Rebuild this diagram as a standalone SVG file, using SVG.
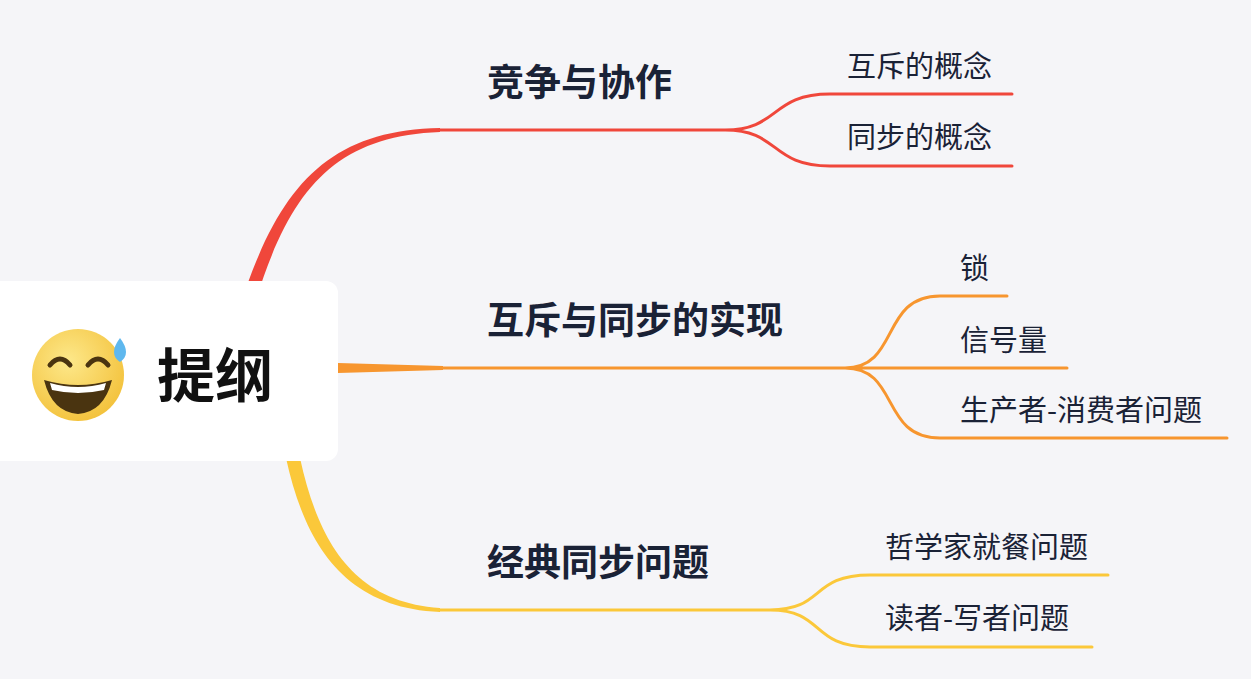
<svg xmlns="http://www.w3.org/2000/svg" width="1251" height="679" viewBox="0 0 1251 679">
<style>
.m{font-family:"Noto Sans CJK SC",sans-serif;font-weight:bold;font-size:37px;fill:#1a2236}
.c{font-family:"Noto Sans CJK SC",sans-serif;font-size:29px;fill:#1a2236}
.r{stroke:#f0473b;fill:none}.o{stroke:#f7962f;fill:none}.y{stroke:#fbc83a;fill:none}
</style>
<defs><radialGradient id="g" cx="0.4" cy="0.35" r="0.7"><stop offset="0" stop-color="#fde88a"/><stop offset="1" stop-color="#f3c13a"/></radialGradient></defs>
<rect width="1251" height="679" fill="#f5f5f8"/>
<g id="connectors" stroke-linecap="round">
<path fill="#f0473b" d="M242,300 C280,185 330,130 440,128 L440,132 C335,136 290,190 256,300 Z"/>
<path class="r" stroke-width="3" d="M440,130 L725,130 C780,130 770,94 830,94 L1012,94 M725,130 C780,130 770,166 830,166 L1012,166"/>
<path fill="#f7962f" d="M338,363 L443,366 L443,370 L338,373 Z"/>
<path class="o" stroke-width="3" d="M443,368 L845,368 C900,368 880,296 940,296 L1007,296 M845,368 L1067,368 M845,368 C900,368 880,438 940,438 L1227,438"/>
<path fill="#fbc83a" d="M286,458 C305,545 345,608 440,612 L440,608 C352,602 318,540 300,458 Z"/>
<path class="y" stroke-width="3" d="M440,610 L770,610 C825,610 810,575 870,575 L1108,575 M770,610 C825,610 810,647 870,647 L1092,647"/>
</g>
<g id="root">
<rect x="-20" y="281" width="358" height="180" rx="12" fill="#fff"/>
<circle cx="78" cy="375" r="46" fill="url(#g)"/>
<path d="M50,365 q10,-12 20,0 M88,365 q10,-12 20,0" stroke="#4a3410" stroke-width="5" fill="none" stroke-linecap="round"/>
<path d="M44,380 Q78,390 112,380 Q104,412 78,414 Q52,412 44,380 Z" fill="#4a3410"/>
<path d="M50,383 Q78,391 106,383 L104,390 Q78,396 52,390 Z" fill="#fff"/>
<path d="M120,338 q12,16 0,24 q-12,-8 0,-24 Z" fill="#5fb8ee"/>
<text x="157" y="397" font-family="Noto Sans CJK SC,sans-serif" font-weight="bold" font-size="58" fill="#111">提纲</text>
</g>
<g id="n1"><text class="m" x="487" y="96">竞争与协作</text></g>
<g id="n2"><text class="m" x="487" y="334">互斥与同步的实现</text></g>
<g id="n3"><text class="m" x="487" y="576">经典同步问题</text></g>
<g id="c1"><text class="c" x="847" y="77">互斥的概念</text></g>
<g id="c2"><text class="c" x="847" y="148">同步的概念</text></g>
<g id="c3"><text class="c" x="960" y="279">锁</text></g>
<g id="c4"><text class="c" x="960" y="351">信号量</text></g>
<g id="c5"><text class="c" x="960" y="421">生产者-消费者问题</text></g>
<g id="c6"><text class="c" x="885" y="558">哲学家就餐问题</text></g>
<g id="c7"><text class="c" x="885" y="629">读者-写者问题</text></g>
</svg>
